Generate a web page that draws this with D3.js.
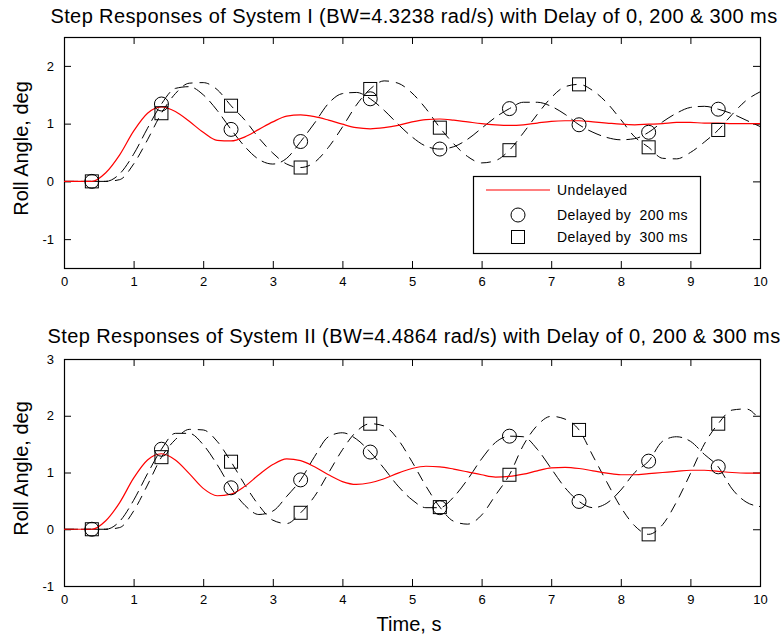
<!DOCTYPE html>
<html>
<head>
<meta charset="utf-8">
<script src="https://cdn.jsdelivr.net/npm/d3@7"></script>
<style>
  body { margin: 0; background: #fff; }
  text { font-family: "Liberation Sans", Arial, sans-serif; fill: #000; }
</style>
</head>
<body>
<div id="graph"></div>
<script>
// sample times (s)
var time = [0, 0.2, 0.4, 0.6, 0.8, 1.0, 1.2, 1.4, 1.6, 1.8,
            2.0, 2.2, 2.4, 2.6, 2.8, 3.0, 3.2, 3.4, 3.6, 3.8,
            4.0, 4.2, 4.4, 4.6, 4.8, 5.0, 5.2, 5.4, 5.6, 5.8,
            6.0, 6.2, 6.4, 6.6, 6.8, 7.0, 7.2, 7.4, 7.6, 7.8,
            8.0, 8.2, 8.4, 8.6, 8.8, 9.0, 9.2, 9.4, 9.6, 9.8, 10.0];

// markers are drawn every 1 s starting at 0.4 s
var markerTimes = [0.4, 1.4, 2.4, 3.4, 4.4, 5.4, 6.4, 7.4, 8.4, 9.4];

// System I roll angle (deg)
var sys1_undelayed = [0, 0, 0, 0.15, 0.46, 0.87, 1.18, 1.29, 1.21, 1.04,
                      0.85, 0.71, 0.70, 0.77, 0.90, 1.03, 1.13, 1.15, 1.12, 1.06,
                      0.99, 0.93, 0.91, 0.93, 0.97, 1.03, 1.07, 1.08, 1.06, 1.03,
                      1.00, 0.98, 0.97, 0.98, 1.01, 1.04, 1.05, 1.05, 1.03, 1.01,
                      0.99, 0.98, 0.99, 1.00, 1.02, 1.02, 1.01, 1.01, 1.00, 1.00, 1.00];
var sys1_delay200 = [0, 0, 0, 0, 0.13, 0.47, 0.92, 1.34, 1.61, 1.64,
                     1.50, 1.23, 0.90, 0.60, 0.38, 0.30, 0.40, 0.69, 1.01, 1.35,
                     1.52, 1.54, 1.43, 1.23, 0.99, 0.77, 0.61, 0.56, 0.60, 0.73,
                     0.92, 1.11, 1.26, 1.37, 1.37, 1.30, 1.16, 0.98, 0.85, 0.76,
                     0.72, 0.74, 0.85, 1.03, 1.18, 1.28, 1.30, 1.25, 1.17, 1.06, 0.95];
var sys1_delay300 = [0, 0, 0, 0, 0.03, 0.30, 0.72, 1.18, 1.52, 1.70,
                     1.71, 1.59, 1.31, 1.06, 0.75, 0.49, 0.30, 0.24, 0.33, 0.59,
                     0.94, 1.32, 1.60, 1.74, 1.70, 1.53, 1.26, 0.93, 0.65, 0.43,
                     0.32, 0.36, 0.54, 0.84, 1.16, 1.45, 1.64, 1.68, 1.57, 1.36,
                     1.07, 0.77, 0.59, 0.40, 0.39, 0.50, 0.68, 0.89, 1.16, 1.40, 1.55];

// System II roll angle (deg)
var sys2_undelayed = [0, 0, 0, 0.15, 0.47, 0.90, 1.22, 1.33, 1.22, 0.98,
                      0.72, 0.59, 0.62, 0.76, 0.96, 1.14, 1.24, 1.21, 1.10, 0.96,
                      0.84, 0.79, 0.82, 0.89, 0.99, 1.07, 1.11, 1.10, 1.06, 1.01,
                      0.96, 0.92, 0.93, 0.97, 1.03, 1.08, 1.09, 1.07, 1.03, 0.99,
                      0.96, 0.96, 0.98, 1.00, 1.02, 1.04, 1.04, 1.02, 1.00, 0.99, 0.99];
var sys2_delay200 = [0, 0, 0, 0, 0.14, 0.51, 0.98, 1.41, 1.69, 1.69,
                     1.49, 1.14, 0.73, 0.42, 0.26, 0.32, 0.58, 0.87, 1.28, 1.63,
                     1.70, 1.59, 1.36, 1.07, 0.76, 0.52, 0.38, 0.38, 0.57, 0.88,
                     1.24, 1.53, 1.64, 1.63, 1.41, 1.07, 0.73, 0.49, 0.38, 0.46,
                     0.69, 1.00, 1.20, 1.55, 1.63, 1.55, 1.32, 1.10, 0.71, 0.48, 0.40];
var sys2_delay300 = [0, 0, 0, 0, 0.03, 0.32, 0.78, 1.27, 1.58, 1.76,
                     1.75, 1.55, 1.19, 0.78, 0.42, 0.16, 0.10, 0.29, 0.58, 0.99,
                     1.40, 1.72, 1.86, 1.82, 1.58, 1.19, 0.76, 0.39, 0.14, 0.09,
                     0.25, 0.60, 0.96, 1.48, 1.83, 1.99, 1.94, 1.75, 1.29, 0.83,
                     0.39, 0.06, -0.09, 0.08, 0.48, 0.98, 1.50, 1.86, 2.10, 2.12, 1.92];

var xTicks = [0, 1, 2, 3, 4, 5, 6, 7, 8, 9, 10];
var yTicks1 = [-1, 0, 1, 2];
var yTicks2 = [-1, 0, 1, 2, 3];
var legendLabels = ["Undelayed", "Delayed by  200 ms", "Delayed by  300 ms"];

var width = 781, height = 638;
var svg, xScale;
const left = 64, right = 760, tickLen = 7;

function setup_graph() {
    svg = d3.select("#graph")
        .append("svg")
        .attr("width", width)
        .attr("height", height);
    svg.append("rect").attr("width", width).attr("height", height).attr("fill", "#fff");
    xScale = d3.scaleLinear().domain([0, 10]).range([left, right]);
}

// one subplot: box, ticks on all 4 sides, lines and markers
function build_panel(cfg) {
    var yScale = d3.scaleLinear().domain(cfg.domain).range([cfg.bottom, cfg.top]);
    var g = svg.append("g");

    g.append("text")
        .attr("x", (left + right) / 2 + 2)
        .attr("y", cfg.titleY)
        .attr("text-anchor", "middle")
        .style("font-size", "20px")
        .style("letter-spacing", "0.4px")
        .text(cfg.title);

    g.append("g")
        .attr("transform", "translate(0," + cfg.bottom + ")")
        .call(d3.axisBottom(xScale).tickValues(xTicks).tickSizeInner(-tickLen).tickSizeOuter(0).tickPadding(9).tickFormat(d => String(d)))
        .call(style_axis);
    g.append("g")
        .attr("transform", "translate(0," + cfg.top + ")")
        .call(d3.axisTop(xScale).tickValues(xTicks).tickSizeInner(-tickLen).tickSizeOuter(0).tickFormat(""))
        .call(style_axis);
    g.append("g")
        .attr("transform", "translate(" + left + ",0)")
        .call(d3.axisLeft(yScale).tickValues(cfg.yTicks).tickSizeInner(-tickLen).tickSizeOuter(0).tickPadding(10).tickFormat(d => String(d)))
        .call(style_axis);
    g.append("g")
        .attr("transform", "translate(" + right + ",0)")
        .call(d3.axisRight(yScale).tickValues(cfg.yTicks).tickSizeInner(-tickLen).tickSizeOuter(0).tickFormat(""))
        .call(style_axis);

    g.append("rect")
        .attr("x", left + 0.5).attr("y", cfg.top + 0.5)
        .attr("width", right - left).attr("height", cfg.bottom - cfg.top)
        .attr("fill", "none").attr("stroke", "#000").attr("stroke-width", 1.2);

    g.append("text")
        .attr("transform", "translate(28," + ((cfg.top + cfg.bottom) / 2 - 4) + ") rotate(-90)")
        .attr("text-anchor", "middle")
        .style("font-size", "20px")
        .text("Roll Angle, deg");

    var line = d3.line()
        .x(function(d, i) { return xScale(time[i]); })
        .y(function(d) { return yScale(d); })
        .curve(d3.curveMonotoneX);

    var plot = g.append("g");
    plot.append("path").datum(cfg.d200).attr("d", line)
        .attr("fill", "none").attr("stroke", "#000").attr("stroke-width", 1)
        .attr("stroke-dasharray", "14,6");
    plot.append("path").datum(cfg.d300).attr("d", line)
        .attr("fill", "none").attr("stroke", "#000").attr("stroke-width", 1)
        .attr("stroke-dasharray", "10,7");
    plot.append("path").datum(cfg.und).attr("d", line)
        .attr("fill", "none").attr("stroke", "#ff0000").attr("stroke-width", 1.2);

    var idx = markerTimes.map(function(t) { return time.indexOf(t); });
    plot.selectAll("circle.m200").data(idx).enter()
        .append("circle")
        .attr("cx", function(i) { return xScale(time[i]); })
        .attr("cy", function(i) { return yScale(cfg.d200[i]); })
        .attr("r", 7)
        .attr("fill", "none").attr("stroke", "#000");
    plot.selectAll("rect.m300").data(idx).enter()
        .append("rect")
        .attr("x", function(i) { return xScale(time[i]) - 6.5; })
        .attr("y", function(i) { return yScale(cfg.d300[i]) - 6.5; })
        .attr("width", 13).attr("height", 13)
        .attr("fill", "none").attr("stroke", "#000");

    return yScale;
}

function style_axis(sel) {
    sel.select(".domain").remove();
    sel.selectAll("line").attr("stroke", "#000");
    sel.selectAll("text").style("font-size", "13px").attr("fill", "#000");
}

function build_legend() {
    var lx = 473, ly = 176, lw = 227, lh = 77;
    var g = svg.append("g");
    g.append("rect").attr("x", lx + 0.5).attr("y", ly + 0.5).attr("width", lw).attr("height", lh)
        .attr("fill", "#fff").attr("stroke", "#000").attr("stroke-width", 1.2);
    var rows = [190, 215, 237];
    g.append("line").attr("x1", 486).attr("x2", 550).attr("y1", rows[0]).attr("y2", rows[0])
        .attr("stroke", "#ff0000").attr("stroke-width", 1.2);
    g.append("circle").attr("cx", 518).attr("cy", rows[1]).attr("r", 7)
        .attr("fill", "none").attr("stroke", "#000");
    g.append("rect").attr("x", 511.5).attr("y", rows[2] - 6.5).attr("width", 13).attr("height", 13)
        .attr("fill", "none").attr("stroke", "#000");
    g.selectAll("text.leg").data(legendLabels).enter()
        .append("text")
        .attr("x", 557)
        .attr("y", function(d, i) { return rows[i] + 5; })
        .style("font-size", "14px")
        .style("letter-spacing", "0.4px")
        .style("white-space", "pre")
        .attr("xml:space", "preserve")
        .text(function(d) { return d; });
}

function initialize() {
    setup_graph();
    build_panel({
        title: "Step Responses of System I (BW=4.3238 rad/s) with Delay of 0, 200 & 300 ms",
        titleY: 23, top: 37, bottom: 268, domain: [-1.5, 2.5], yTicks: yTicks1,
        und: sys1_undelayed, d200: sys1_delay200, d300: sys1_delay300
    });
    build_legend();
    build_panel({
        title: "Step Responses of System II (BW=4.4864 rad/s) with Delay of 0, 200 & 300 ms",
        titleY: 343, top: 359, bottom: 586, domain: [-1, 3], yTicks: yTicks2,
        und: sys2_undelayed, d200: sys2_delay200, d300: sys2_delay300
    });
    svg.append("text")
        .attr("x", (left + right) / 2 - 3)
        .attr("y", 631)
        .attr("text-anchor", "middle")
        .style("font-size", "20px")
        .text("Time, s");
}

initialize();
</script>
</body>
</html>
